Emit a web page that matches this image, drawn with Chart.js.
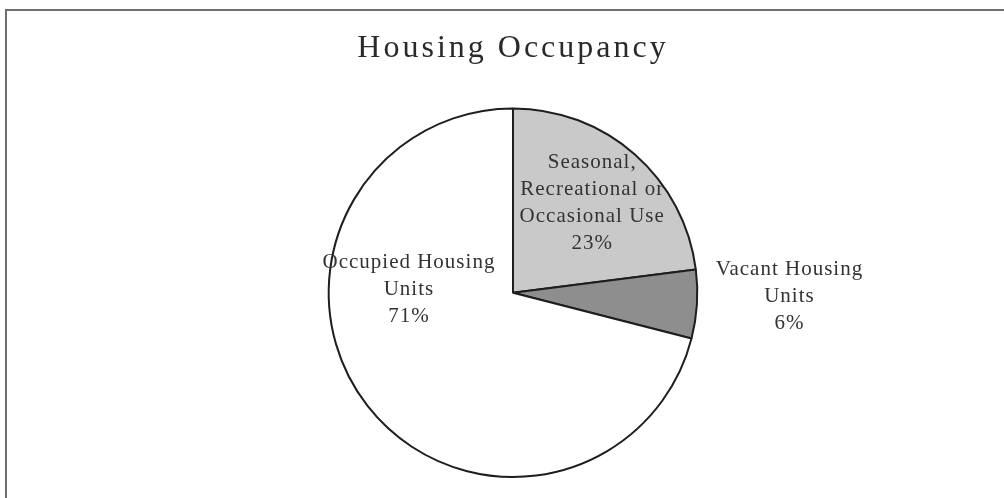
<!DOCTYPE html>
<html lang="en">
<head>
    <meta charset="UTF-8" />
    <title>Housing Occupancy</title>
    <script src="https://cdn.jsdelivr.net/npm/chart.js"></script>
    <style>
        html, body {
            margin: 0;
            padding: 0;
            background: #fff;
        }
        #wrap {
            position: relative;
            width: 1004px;
            height: 498px;
            overflow: hidden;
        }
        #frame {
            position: absolute;
            left: 5px;
            top: 9px;
            width: 1010px;
            height: 500px;
            border-top: 2px solid #6f6f6f;
            border-left: 2px solid #6f6f6f;
        }
        canvas {
            position: absolute;
            left: 0;
            top: 0;
        }
    </style>
</head>
<body>
    <div id="wrap">
        <div id="frame"></div>
        <canvas id="grafico" width="1004" height="498"></canvas>
    </div>

    <script>
        const categorias = ['Seasonal, Recreational or Occasional Use', 'Vacant Housing Units', 'Occupied Housing Units'];
        const lineasEtiqueta = [
            ['Seasonal,', 'Recreational or', 'Occasional Use'],
            ['Vacant Housing', 'Units'],
            ['Occupied Housing', 'Units']
        ];
        const valores = [23, 6, 71];
        const colores = ['#c9c9c9', '#8e8e8e', '#ffffff'];

        // where each label sits: angle from 12 o'clock (deg) or slice middle, and radius as a fraction
        const posEtiquetas = [
            { radius: 0.65 },
            { angle: 90.8, radius: 1.5 },
            { angle: 272, radius: 0.565 }
        ];

        const espaciadoTitulo = {
            id: 'espaciadoTitulo',
            beforeDraw(chart) {
                chart.ctx.letterSpacing = '3px';
            },
            beforeDatasetsDraw(chart) {
                chart.ctx.letterSpacing = '0px';
            }
        };

        const etiquetas = {
            id: 'etiquetas',
            afterDatasetsDraw(chart) {
                const ctx = chart.ctx;
                const meta = chart.getDatasetMeta(0);
                const total = valores.reduce((a, b) => a + b, 0);
                const alto = 27;
                ctx.save();
                ctx.font = '21px "Liberation Serif", serif';
                ctx.fillStyle = '#333';
                ctx.textAlign = 'center';
                ctx.textBaseline = 'middle';
                ctx.letterSpacing = '1px';
                meta.data.forEach((arc, i) => {
                    const p = arc.getProps(['x', 'y', 'startAngle', 'endAngle', 'outerRadius'], true);
                    const pos = posEtiquetas[i];
                    const ang = pos.angle !== undefined
                        ? pos.angle * Math.PI / 180 - Math.PI / 2
                        : (p.startAngle + p.endAngle) / 2;
                    const r = p.outerRadius * pos.radius;
                    const cx = p.x + Math.cos(ang) * r;
                    const cy = p.y + Math.sin(ang) * r;
                    const lineas = lineasEtiqueta[i].concat([Math.round(valores[i] / total * 100) + '%']);
                    lineas.forEach((t, k) => {
                        ctx.fillText(t, cx, cy + (k - (lineas.length - 1) / 2) * alto);
                    });
                });
                ctx.restore();
            }
        };

        new Chart(document.getElementById('grafico'), {
            type: 'pie',
            data: {
                labels: categorias,
                datasets: [{
                    data: valores,
                    backgroundColor: colores,
                    borderColor: '#1e1e1e',
                    borderWidth: 2
                }]
            },
            options: {
                responsive: false,
                animation: false,
                layout: {
                    padding: { left: 22, right: 0, top: 0, bottom: 20 }
                },
                plugins: {
                    legend: { display: false },
                    tooltip: { enabled: false },
                    title: {
                        display: true,
                        text: 'Housing Occupancy',
                        color: '#2a2a2a',
                        font: { family: '"Liberation Serif", serif', size: 32, weight: 'normal', lineHeight: 1.2 },
                        padding: { top: 29, bottom: 40 }
                    }
                }
            },
            plugins: [espaciadoTitulo, etiquetas]
        });
    </script>
</body>
</html>
